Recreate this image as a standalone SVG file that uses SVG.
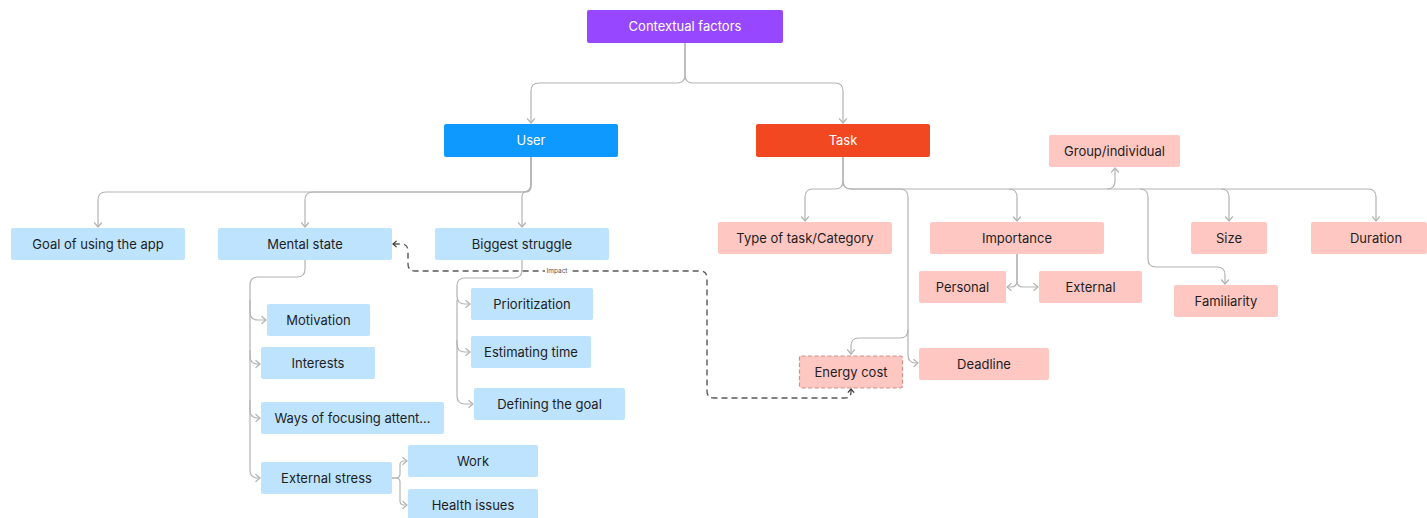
<svg xmlns="http://www.w3.org/2000/svg" width="1427" height="518" viewBox="0 0 1427 518">
<style>
  .t { font-family: Inter, "Liberation Sans", sans-serif; font-size: 13px; fill: #1e1e1e; text-anchor: middle; dominant-baseline: central; }
  .tw { fill: #ffffff; }
  .blue { fill: #bde3ff; }
  .pink { fill: #ffc7c2; }
  .c { fill: none; stroke: #b3b3b3; stroke-width: 1.2; marker-end: url(#arr); }
  .d { fill: none; stroke: #5a5a5a; stroke-width: 1.4; stroke-dasharray: 6 4; marker-end: url(#arrd); marker-start: url(#arrd); }
</style>
<defs>
  <marker id="arr" viewBox="0 0 10 10" refX="5" refY="5" markerWidth="10" markerHeight="10" markerUnits="userSpaceOnUse" orient="auto">
    <path d="M0.5,1.2 L5,5 L0.5,8.8" fill="none" stroke="#b3b3b3" stroke-width="1.2"/>
  </marker>
  <marker id="arrd" viewBox="0 0 10 10" refX="5" refY="5" markerWidth="9" markerHeight="9" markerUnits="userSpaceOnUse" orient="auto-start-reverse">
    <path d="M1,1.5 L5,5 L1,8.5" fill="none" stroke="#333333" stroke-width="1.3"/>
  </marker>
</defs>
<rect width="1427" height="518" fill="#ffffff"/>

<g id="connectors">
  <path class="c" d="M685,43 V75 Q685,83 677,83 H539 Q531,83 531,91 V123"/>
  <path class="c" d="M685,43 V75 Q685,83 693,83 H835 Q843,83 843,91 V123"/>
  <path class="c" d="M531,157 V184 Q531,192 523,192 H106 Q98,192 98,200 V227"/>
  <path class="c" d="M531,157 V184 Q531,192 523,192 H313 Q305,192 305,200 V227"/>
  <path class="c" d="M531,157 V186 Q531,192 526,192 Q522,192 522,197 V227"/>
  <path class="c" d="M305,260 V269 Q305,277 297,277 H258 Q250,277 250,285 V312 Q250,320 258,320 H266"/>
  <path class="c" d="M250,300 V356 Q250,364 258,364 H260"/>
  <path class="c" d="M250,350 V410 Q250,418 258,418 H260"/>
  <path class="c" d="M250,400 V470 Q250,478 258,478 H260"/>
  <path class="c" d="M392,478 H396 Q400,478 400,474 V465 Q400,461 404,461 H407"/>
  <path class="c" d="M392,478 H396 Q400,478 400,482 V501 Q400,505 404,505 H407"/>
  <path class="c" d="M522,260 V270 Q522,278 514,278 H465 Q457,278 457,286 V296 Q457,304 465,304 H470"/>
  <path class="c" d="M457,300 V344 Q457,352 465,352 H470"/>
  <path class="c" d="M457,340 V396 Q457,404 465,404 H473"/>
  <path class="c" d="M843,157 V181 Q843,189 835,189 H813 Q805,189 805,197 V221"/>
  <path class="c" d="M843,157 V181 Q843,189 851,189 H900 Q908,189 908,197 V330 Q908,338 900,338 H859 Q851,338 851,346 V354"/>
  <path class="c" d="M908,330 V355 Q908,363 916,363 H918"/>
  <path class="c" d="M843,181 Q843,189 851,189 H1009 Q1017,189 1017,197 V221"/>
  <path class="c" d="M1009,189 H1107 Q1115,189 1115,181 V168"/>
  <path class="c" d="M1107,189 H1140 Q1148,189 1148,197 V259 Q1148,267 1156,267 H1217 Q1225,267 1225,275 V284"/>
  <path class="c" d="M1140,189 H1221 Q1229,189 1229,197 V221"/>
  <path class="c" d="M1221,189 H1368 Q1376,189 1376,197 V221"/>
  <path class="c" d="M1017,254 V281 Q1017,287 1011,287 H1007"/>
  <path class="c" d="M1017,254 V281 Q1017,287 1023,287 H1038"/>
  <path class="d" d="M851,389 V392 Q851,398 845,398 H714 Q707,398 707,391 V278 Q707,271 700,271 H415 Q408,271 408,264 V251 Q408,244 401,244 H393"/>
  <rect x="545" y="267" width="24" height="8" fill="#ffffff"/>
  <text x="557" y="270.5" style="font-family: Inter, 'Liberation Sans', sans-serif; font-size: 6.5px; fill: #555555; text-anchor: middle; dominant-baseline: central;">Impact</text>
</g>

<g id="contextual-factors"><rect x="587" y="10" width="196" height="33" rx="2" fill="#9747ff"/><text class="t tw" x="685" y="26">Contextual factors</text></g>
<g id="user"><rect x="444" y="124" width="174" height="33" rx="2" fill="#0d99ff"/><text class="t tw" x="531" y="140">User</text></g>
<g id="task"><rect x="756" y="124" width="174" height="33" rx="2" fill="#f24822"/><text class="t tw" x="843" y="140">Task</text></g>

<g id="goal"><rect class="blue" x="11" y="228" width="174" height="32" rx="2"/><text class="t" x="98" y="243.5">Goal of using the app</text></g>
<g id="mental-state"><rect class="blue" x="218" y="228" width="174" height="32" rx="2"/><text class="t" x="305" y="243.5">Mental state</text></g>
<g id="biggest-struggle"><rect class="blue" x="435" y="228" width="174" height="32" rx="2"/><text class="t" x="522" y="243.5">Biggest struggle</text></g>
<g id="motivation"><rect class="blue" x="267" y="304" width="103" height="32" rx="2"/><text class="t" x="318.5" y="319.5">Motivation</text></g>
<g id="interests"><rect class="blue" x="261" y="347" width="114" height="32" rx="2"/><text class="t" x="318" y="362.5">Interests</text></g>
<g id="ways"><rect class="blue" x="261" y="402" width="183" height="32" rx="2"/><text class="t" x="352.5" y="417.5">Ways of focusing attent...</text></g>
<g id="external-stress"><rect class="blue" x="261" y="462" width="131" height="32" rx="2"/><text class="t" x="326.5" y="477.5">External stress</text></g>
<g id="work"><rect class="blue" x="408" y="445" width="130" height="32" rx="2"/><text class="t" x="473" y="460.5">Work</text></g>
<g id="health"><rect class="blue" x="408" y="489" width="130" height="32" rx="2"/><text class="t" x="473" y="504.5">Health issues</text></g>
<g id="prioritization"><rect class="blue" x="471" y="288" width="122" height="32" rx="2"/><text class="t" x="532" y="303.5">Prioritization</text></g>
<g id="estimating"><rect class="blue" x="471" y="336" width="120" height="32" rx="2"/><text class="t" x="531" y="351.5">Estimating time</text></g>
<g id="defining"><rect class="blue" x="474" y="388" width="151" height="32" rx="2"/><text class="t" x="549.5" y="403.5">Defining the goal</text></g>

<g id="type"><rect class="pink" x="718" y="222" width="174" height="32" rx="2"/><text class="t" x="805" y="237.5">Type of task/Category</text></g>
<g id="importance"><rect class="pink" x="930" y="222" width="174" height="32" rx="2"/><text class="t" x="1017" y="237.5">Importance</text></g>
<g id="group"><rect class="pink" x="1049" y="135" width="131" height="32" rx="2"/><text class="t" x="1114.5" y="150.5">Group/individual</text></g>
<g id="size"><rect class="pink" x="1191" y="222" width="76" height="32" rx="2"/><text class="t" x="1229" y="237.5">Size</text></g>
<g id="duration"><rect class="pink" x="1311" y="222" width="116" height="32" rx="2"/><text class="t" x="1376" y="237.5">Duration</text></g>
<g id="personal"><rect class="pink" x="919" y="271" width="87" height="32" rx="2"/><text class="t" x="962.5" y="286.5">Personal</text></g>
<g id="external"><rect class="pink" x="1039" y="271" width="103" height="32" rx="2"/><text class="t" x="1090.5" y="286.5">External</text></g>
<g id="familiarity"><rect class="pink" x="1174" y="285" width="104" height="32" rx="2"/><text class="t" x="1226" y="300.5">Familiarity</text></g>
<g id="energy-cost"><rect class="pink" x="799.5" y="356" width="103" height="32" rx="2" stroke="#d08f8a" stroke-width="1.2" stroke-dasharray="4 2.5"/><text class="t" x="851" y="371.5">Energy cost</text></g>
<g id="deadline"><rect class="pink" x="919" y="348" width="130" height="32" rx="2"/><text class="t" x="984" y="363.5">Deadline</text></g>
</svg>
